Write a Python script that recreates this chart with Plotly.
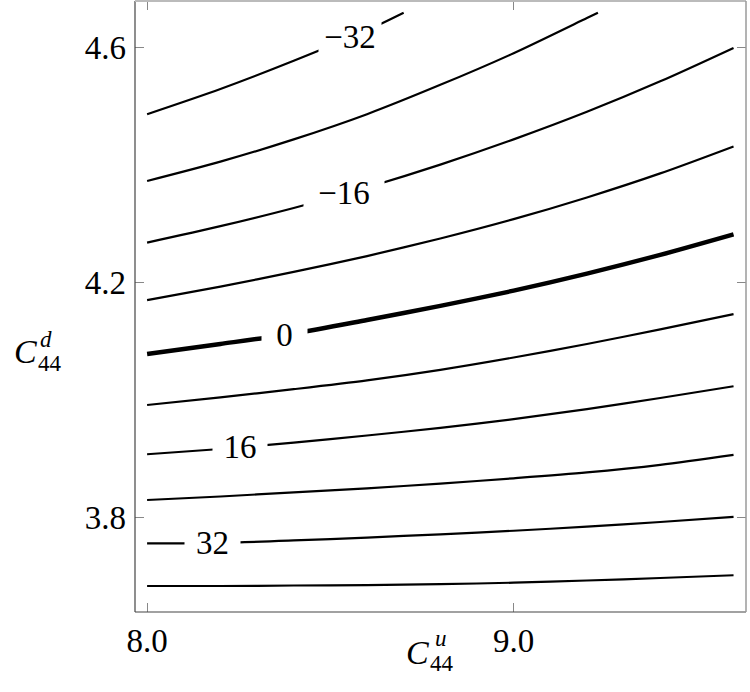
import plotly.graph_objects as go

# ---- data ----
x_grid = [8.0, 8.2, 8.4, 8.6, 8.8, 9.0, 9.2, 9.4, 9.6]

level_m32_x = [8.0, 8.2, 8.4, 8.6, 8.7]
level_m32_y = [4.487, 4.530, 4.578, 4.630, 4.660]
level_m24_x = [8.0, 8.2, 8.4, 8.6, 8.8, 9.0, 9.2, 9.23]
level_m24_y = [4.373, 4.406, 4.444, 4.487, 4.537, 4.591, 4.651, 4.660]
level_m16_y = [4.268, 4.296, 4.327, 4.362, 4.401, 4.444, 4.491, 4.543, 4.600]
level_m8_y = [4.170, 4.193, 4.218, 4.245, 4.275, 4.308, 4.345, 4.386, 4.432]
level_0_y = [4.078, 4.095, 4.113, 4.136, 4.160, 4.186, 4.215, 4.247, 4.282]
level_8_y = [3.991, 4.004, 4.018, 4.033, 4.051, 4.072, 4.095, 4.120, 4.146]
level_16_y = [3.907, 3.916, 3.927, 3.939, 3.952, 3.967, 3.984, 4.003, 4.023]
level_24_y = [3.829, 3.835, 3.842, 3.849, 3.857, 3.866, 3.876, 3.889, 3.906]
level_32_y = [3.755, 3.756, 3.760, 3.765, 3.7705, 3.7766, 3.7835, 3.7915, 3.8003]
level_40_y = [3.6823, 3.6823, 3.6832, 3.684, 3.6854, 3.688, 3.6917, 3.696, 3.7007]

label_text = ["\u221232", "\u221216", "0", "16", "32"]
label_x = [8.554, 8.538, 8.376, 8.254, 8.178]
label_y = [4.619, 4.352, 4.111, 3.919, 3.755]
label_gap = [62, 80, 45, 54, 55]   # style: blank width around each label (px)

x_tickvals = [8.0, 9.0]
x_ticktext = ["8.0", "9.0"]
y_tickvals = [3.8, 4.2, 4.6]
y_ticktext = ["3.8", "4.2", "4.6"]

# ---- figure ----
FONT = "'Liberation Serif', 'DejaVu Serif', 'Times New Roman', serif"
fig = go.Figure()

lines = [
    (level_m32_x, level_m32_y, 2.2),
    (level_m24_x, level_m24_y, 2.2),
    (x_grid, level_m16_y, 2.2),
    (x_grid, level_m8_y, 2.2),
    (x_grid, level_0_y, 4.4),
    (x_grid, level_8_y, 2.2),
    (x_grid, level_16_y, 2.2),
    (x_grid, level_24_y, 2.2),
    (x_grid, level_32_y, 2.2),
    (x_grid, level_40_y, 2.2),
]
for xs, ys, w in lines:
    fig.add_trace(go.Scatter(x=xs, y=ys, mode="lines",
                             line=dict(color="black", width=w, shape="spline", smoothing=0.8),
                             showlegend=False, hoverinfo="skip"))

for t, lx, ly, g in zip(label_text, label_x, label_y, label_gap):
    fig.add_annotation(x=lx, y=ly, xref="x", yref="y", text=t, showarrow=False,
                       font=dict(family=FONT, size=33, color="black"),
                       bgcolor="white", width=g, borderpad=0, align="center",
                       xanchor="center", yanchor="middle")

L, R, T, B = 135, 4, 1, 80
W, H = 750, 692
pw, ph = W - L - R, H - T - B

def px(xp):
    return (xp - L) / pw

def py(yp):
    return (H - B - yp) / ph

# axis titles (C^d_44 and C^u_44)
titles = [
    ("<i>C</i>", 25, 351.5, 34),
    ("<i>d</i>", 46, 339.5, 23),
    ("44", 49.5, 363, 23),
    ("<i>C</i>", 417.5, 652.5, 34),
    ("<i>u</i>", 441, 638.5, 23),
    ("44", 442, 664, 23),
]
for txt, xx, yy, fs in titles:
    fig.add_annotation(x=px(xx), y=py(yy), xref="paper", yref="paper", text=txt,
                       showarrow=False, font=dict(family=FONT, size=fs, color="black"),
                       xanchor="center", yanchor="middle")

# frame
fig.add_shape(type="line", xref="paper", yref="paper", x0=0, x1=0, y0=0, y1=1,
              line=dict(color="#444444", width=1.2), layer="above")
fig.add_shape(type="line", xref="paper", yref="paper", x0=0, x1=1, y0=0, y1=0,
              line=dict(color="#444444", width=1.2), layer="above")
fig.add_shape(type="line", xref="paper", yref="paper", x0=0, x1=1, y0=1, y1=1,
              line=dict(color="#bbbbbb", width=2), layer="above")
fig.add_shape(type="line", xref="paper", yref="paper", x0=1, x1=1, y0=0, y1=1,
              line=dict(color="#9a9a9a", width=1.5), layer="above")

axis_common = dict(showgrid=False, zeroline=False, showline=False, ticks="inside",
                   ticklen=9, tickwidth=1, tickcolor="#888888", mirror="ticks",
                   tickfont=dict(family=FONT, size=33, color="black"))
fig.update_layout(
    width=W, height=H,
    margin=dict(l=L, r=R, t=T, b=B),
    paper_bgcolor="white", plot_bgcolor="white",
    font=dict(family=FONT),
    xaxis=dict(range=[7.967, 9.634], tickvals=x_tickvals, ticktext=x_ticktext,
               ticklabelstandoff=6, **axis_common),
    yaxis=dict(range=[3.638, 4.680], tickvals=y_tickvals, ticktext=y_ticktext,
               ticklabelstandoff=8, **axis_common),
)

fig.write_html("out.html")
